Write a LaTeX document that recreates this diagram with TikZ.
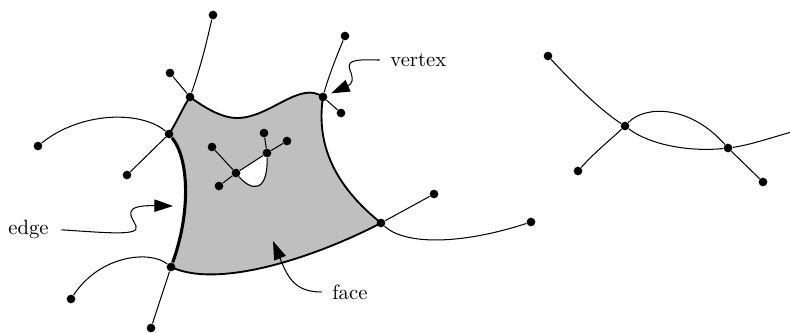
\documentclass[tikz,border=0pt]{standalone}
\usetikzlibrary{arrows.meta, backgrounds}

\begin{document}
\begin{tikzpicture}[
    x=0.017cm, y=-0.017cm,
    dot/.style={circle, fill, inner sep=0pt, minimum size=4.2pt},
    thinline/.style={line width=0.5pt},
    boundary/.style={line width=0.9pt},
    bridge/.style={line width=1.5pt},
    pointer/.style={-{Triangle[length=9pt, width=6pt]}, line width=0.5pt},
    word/.style={inner sep=0pt, anchor=west},
]
\useasboundingbox (0,0) rectangle (790,333);

% Face corners
\node[dot] (A) at (190,97) {};
\node[dot] (B) at (169,134) {};
\node[dot] (C) at (171,267) {};
\node[dot] (D) at (323,97) {};
\node[dot] (E) at (381,223) {};

% Outer leaves
\node[dot] (a1) at (213,15) {};
\node[dot] (a2) at (170,73) {};
\node[dot] (b1) at (38,146) {};
\node[dot] (b2) at (127,175) {};
\node[dot] (c1) at (71,299) {};
\node[dot] (c2) at (151,328) {};
\node[dot] (d1) at (345,36) {};
\node[dot] (d2) at (341,113) {};
\node[dot] (e1) at (434,194) {};
\node[dot] (e2) at (531,222) {};

% Inner tree with hole
\node[dot] (h1) at (236,173) {};
\node[dot] (h2) at (267,153) {};
\node[dot] (i1) at (212,147) {};
\node[dot] (i2) at (219,186) {};
\node[dot] (i3) at (264,133) {};
\node[dot] (i4) at (287,141) {};

% Second component
\node[dot] (R1) at (625,126) {};
\node[dot] (R2) at (728,148) {};
\node[dot] (r1) at (548,56) {};
\node[dot] (r2) at (578,171) {};
\node[dot] (r3) at (763,182) {};
\coordinate (rx) at (795,131);

\begin{scope}[on background layer]
% Face
\fill[gray!50, even odd rule] (A.center) .. controls (205,108) and (222,118) .. (237,118)
    .. controls (270,118) and (300,80) .. (D.center)
    .. controls (315,150) and (340,190) .. (E.center)
    .. controls (320,255) and (220,290) .. (C.center)
    .. controls (190,215) and (190,160) .. (B.center)
    .. controls (178,120) and (183,107) .. (A.center) -- cycle
    (h1.center) -- (h2.center) .. controls (268,195) and (250,190) .. (h1.center) -- cycle;
\draw[boundary] (B.center) .. controls (178,120) and (183,107) .. (A.center)
    .. controls (205,108) and (222,118) .. (237,118)
    .. controls (270,118) and (300,80) .. (D.center)
    .. controls (315,150) and (340,190) .. (E.center)
    .. controls (320,255) and (220,290) .. (C.center);
\draw[bridge] (C) .. controls (190,215) and (190,160) .. (B);

% Edges outside the face
\draw[thinline] (A) .. controls (203,60) and (208,35) .. (a1);
\draw[thinline] (A) -- (a2);
\draw[thinline] (B) .. controls (140,110) and (80,112) .. (b1);
\draw[thinline] (B) -- (b2);
\draw[thinline] (C) .. controls (150,250) and (100,255) .. (c1);
\draw[thinline] (C) -- (c2);
\draw[thinline] (D) .. controls (328,78) and (337,55) .. (d1);
\draw[thinline] (D) -- (d2);
\draw[thinline] (E) -- (e1);
\draw[thinline] (E) .. controls (405,245) and (460,245) .. (e2);

% Edges inside the face
\draw[thinline] (h1) -- (i1);
\draw[thinline] (h1) -- (i2);
\draw[thinline] (h1) -- (h2);
\draw[thinline] (h2) -- (i3);
\draw[thinline] (h2) -- (i4);
\draw[thinline] (h1) .. controls (250,190) and (268,195) .. (h2);

% Second component
\draw[thinline] (r1) .. controls (570,80) and (600,110) .. (R1);
\draw[thinline] (r2) .. controls (595,152) and (610,140) .. (R1);
\draw[thinline] (R1) .. controls (650,145) and (690,152) .. (R2);
\draw[thinline] (R1) .. controls (645,105) and (690,105) .. (R2);
\draw[thinline] (R2) -- (r3);
\draw[thinline] (R2) .. controls (750,145) and (770,138) .. (rx);
\end{scope}

% Labels
\node[word] (lvertex) at (390,60) {vertex};
\node[word] (ledge) at (8,229) {edge};
\node[word] (lface) at (332,292) {face};

\coordinate (etip) at (173,206);
\coordinate (ftip) at (273,241);

\draw[pointer, shorten <=5pt, shorten >=2pt] (lvertex.west) .. controls (362,60) and (345,58) .. (350,70)
    .. controls (354,80) and (352,84) .. (D);
\draw[pointer, shorten <=6pt] (ledge.east) .. controls (110,233) and (140,236) .. (136,226)
    .. controls (132,217) and (120,205) .. (etip);
\draw[pointer, shorten <=5pt] (lface.west) .. controls (295,292) and (288,278) .. (ftip);

\end{tikzpicture}
\end{document}
